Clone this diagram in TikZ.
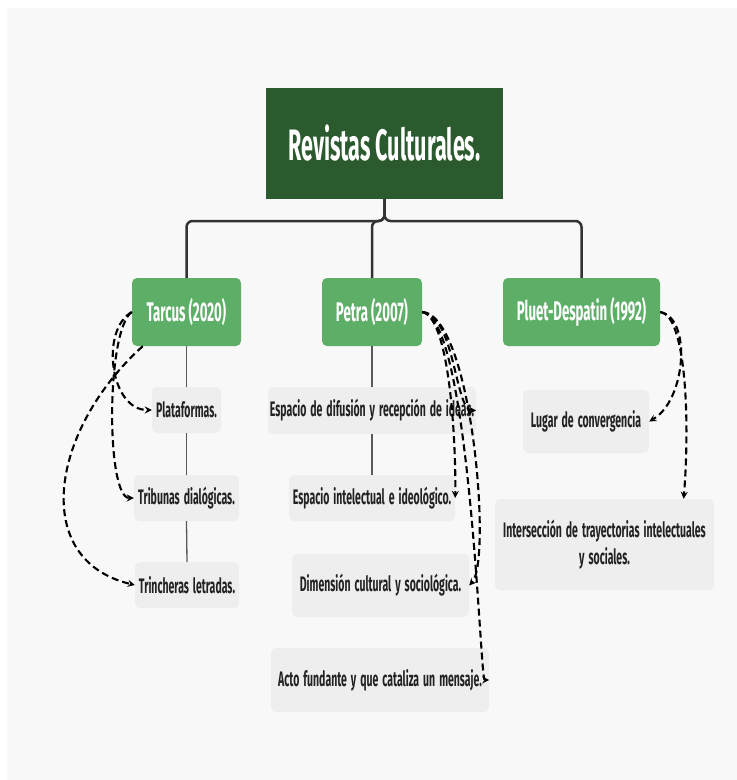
\documentclass[tikz,border=0pt]{standalone}
\usepackage{fontspec}
\setmainfont{Fira Sans}[FakeStretch=0.49]
\newfontfamily\hojafont{Fira Sans}[FakeStretch=0.5, WordSpace=1.6]
\usepackage{xcolor}
\usetikzlibrary{arrows,positioning}
\definecolor{fondo}{HTML}{F8F8F8}
\definecolor{verdeoscuro}{HTML}{2B5A2F}
\definecolor{verde}{HTML}{5DAE66}
\definecolor{gris}{HTML}{EEEEEE}
\definecolor{tinta}{HTML}{222222}
\tikzset{
    titulo/.style={fill=verdeoscuro, text=white, font=\fontsize{44}{50}\selectfont\bfseries, inner sep=0pt}, % caja principal
    rama/.style={fill=verde, text=white, rounded corners=5pt, font=\fontsize{27}{32}\selectfont\bfseries, minimum height=68pt, inner sep=0pt}, % autores
    hoja/.style={fill=gris, text=tinta, rounded corners=5pt, font=\hojafont\fontsize{21}{27}\selectfont\bfseries, inner sep=0pt, align=center}, % ideas
    tronco/.style={draw=black!80, line width=2.5pt, rounded corners=6pt}, % arbol superior
    guia/.style={draw=black!65, line width=1.3pt}, % lineas de columna
}
\tikzstyle{flecha} = [line width=2.1pt, dash pattern=on 7pt off 4pt, ->, >=stealth]

\begin{document}
\begin{tikzpicture}[x=1pt, y=-1pt]
        % Fondo
        \fill[white] (0,0) rectangle (737,780);
        \fill[fondo] (7,8) rectangle (737,780);

        % Titulo
        \node[titulo, minimum width=237pt, minimum height=111pt] (rev) at (384.5,143.5) {Revistas Culturales.};

        % Autores
        \node[rama, minimum width=109pt] (tarcus) at (186.5,312) {Tarcus (2020)};
        \node[rama, minimum width=100pt] (petra) at (372,312) {Petra (2007)};
        \node[rama, minimum width=157pt] (pluet) at (581.5,312) {Pluet-Despatin (1992)};

        % Tarcus
        \node[hoja, minimum width=69pt, minimum height=46pt] (plat) at (186.5,410) {Plataformas.};
        \node[hoja, minimum width=105pt, minimum height=46pt] (trib) at (186.5,498) {Tribunas dialógicas.};
        \node[hoja, minimum width=104pt, minimum height=46pt] (trinch) at (187,585) {Trincheras letradas.};

        % Petra
        \node[hoja, minimum width=208pt, minimum height=47pt] (difus) at (372,410.5) {Espacio de difusión y recepción de ideas.};
        \node[hoja, minimum width=166pt, minimum height=46pt] (intel) at (372,498) {Espacio intelectual e ideológico.};
        \node[hoja, minimum width=177pt, minimum height=63pt] (dimen) at (380.5,585.5) {Dimensión cultural y sociológica.};
        \node[hoja, minimum width=218pt, minimum height=64pt] (acto) at (380,680) {Acto fundante y que cataliza un mensaje.};

        % Pluet-Despatin
        \node[hoja, minimum width=126pt, minimum height=63pt] (lugar) at (586,421.5) {Lugar de convergencia};
        \node[hoja, minimum width=219pt, minimum height=91pt] (inter) at (604.5,544.5) {Intersección de trayectorias intelectuales\\y sociales.};

        % Arbol
        \coordinate (nudo) at (384.5,221);
        \draw[tronco] (rev.south) -- (nudo) -| (tarcus.north);
        \draw[tronco] (rev.south) -- (nudo) -| (petra.north);
        \draw[tronco] (rev.south) -- (nudo) -| (pluet.north);

        % Columnas
        \draw[guia] (tarcus.south) -- (plat.north);
        \draw[guia] (plat.south) -- (trib.north);
        \draw[guia] (trib.south) -- (trinch.north);
        \draw[guia] (petra.south) -- (difus.north);
        \draw[guia] (difus.south) -- (intel.north);

        % Flechas
        \draw[flecha] (tarcus.west) .. controls (100,330) and (110,410) .. (plat.west);
        \draw[flecha] (tarcus.west) .. controls (106,330) and (106,498) .. (trib.west);
        \draw[flecha] (tarcus.218) .. controls (50,430) and (30,560) .. (trinch.west);
        \draw[flecha] (petra.east) .. controls (455,315) and (455,410) .. (difus.east);
        \draw[flecha] (petra.east) .. controls (452,318) and (456,460) .. (intel.east);
        \draw[flecha] (petra.east) .. controls (472,315) and (492,560) .. (dimen.east);
        \draw[flecha] (petra.east) .. controls (470,315) and (480,680) .. (acto.east);
        \draw[flecha] (pluet.east) .. controls (692,318) and (686,400) .. (lugar.east);
        \draw[flecha] (pluet.east) .. controls (686,315) and (690,420) .. (inter.30);
\end{tikzpicture}
\end{document}
